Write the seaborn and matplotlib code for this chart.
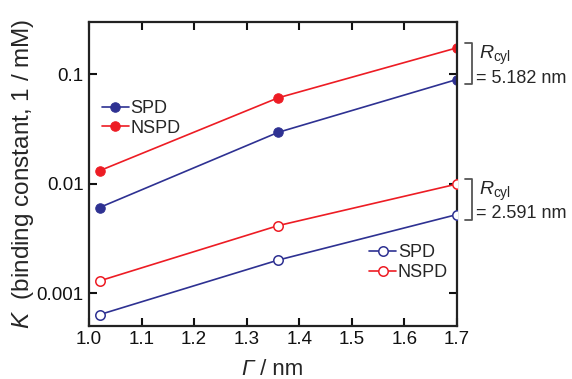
import numpy as np
import matplotlib
matplotlib.use("Agg")
import matplotlib.pyplot as plt
import matplotlib.transforms as mtransforms
import seaborn as sns
from matplotlib.ticker import FixedLocator, NullLocator

# Data
gamma = [1.02, 1.36, 1.70]
spd_large = [0.00604, 0.0294, 0.0894]
nspd_large = [0.0131, 0.0608, 0.174]
spd_small = [0.000634, 0.00200, 0.00521]
nspd_small = [0.00129, 0.00413, 0.0099]
rcyl_labels = ["= 5.182 nm", "= 2.591 nm"]
xticks = [1.0, 1.1, 1.2, 1.3, 1.4, 1.5, 1.6, 1.7]
yticks = [0.001, 0.01, 0.1]
ytick_labels = ["0.001", "0.01", "0.1"]

BLUE = "#2e3192"
RED = "#ed1c24"

sns.set_style("ticks")
plt.rcParams["font.family"] = ["Liberation Sans", "DejaVu Sans"]
plt.rcParams["mathtext.fontset"] = "custom"
plt.rcParams["mathtext.rm"] = "Liberation Sans"
plt.rcParams["mathtext.it"] = "Liberation Sans:italic"

fig = plt.figure(figsize=(5.72, 3.79), dpi=100)
ax = fig.add_axes([0.1556, 0.140, 0.643, 0.802])

sns.lineplot(x=gamma, y=spd_large, ax=ax, color=BLUE, marker="o", markersize=6.8,
             markeredgecolor=BLUE, lw=1.2, label="SPD")
sns.lineplot(x=gamma, y=nspd_large, ax=ax, color=RED, marker="o", markersize=6.8,
             markeredgecolor=RED, lw=1.2, label="NSPD")
ax.plot(gamma, spd_small, color=BLUE, marker="o", ms=6.8, mfc="white",
        mec=BLUE, mew=1.1, lw=1.2, label="SPD", zorder=3)
ax.plot(gamma, nspd_small, color=RED, marker="o", ms=6.8, mfc="white",
        mec=RED, mew=1.1, lw=1.2, label="NSPD", zorder=3)

ax.set_yscale("log")
ax.set_xlim(1.0, 1.7)
ax.set_ylim(0.0005, 0.30)
ax.xaxis.set_major_locator(FixedLocator(xticks))
ax.set_xticklabels([f"{t:.1f}" for t in xticks])
ax.yaxis.set_major_locator(FixedLocator(yticks))
ax.yaxis.set_minor_locator(NullLocator())
ax.set_yticklabels(ytick_labels)
ax.tick_params(which="both", direction="in", length=6, width=1.5,
               top=True, right=True, labelsize=13.5, pad=4, colors="#111111")
for s in ax.spines.values():
    s.set_linewidth(1.6)
    s.set_color("#222222")

ax.set_ylabel(r"$\mathit{K}$  (binding constant, 1 / mM)", fontsize=17.5, labelpad=0)

# x label: italic Gamma followed by upright unit
g = fig.text(241 / 572, 1 - 375 / 379, "Γ", fontsize=16, style="italic",
             ha="left", va="baseline")
ax.annotate(" / nm", xy=(1, 0), xycoords=g, fontsize=16, ha="left", va="bottom")

h, lab = ax.get_legend_handles_labels()
leg1 = ax.legend(h[:2], lab[:2], loc="upper left", bbox_to_anchor=(0.0, 0.785),
                 frameon=False, fontsize=13, handlelength=1.5, handletextpad=0.1,
                 labelspacing=0.15, borderaxespad=0.3)
ax.add_artist(leg1)
ax.legend(h[2:], lab[2:], loc="upper left", bbox_to_anchor=(0.727, 0.31),
          frameon=False, fontsize=13, handlelength=1.5, handletextpad=0.1,
          labelspacing=0.15, borderaxespad=0.3)

# brackets marking the two cylinder radii
trans = mtransforms.blended_transform_factory(ax.transAxes, ax.transData)
for top, bot, txt in [(nspd_large[-1], spd_large[-1], rcyl_labels[0]),
                      (nspd_small[-1], spd_small[-1], rcyl_labels[1])]:
    y0, y1 = top * 1.11, bot / 1.11
    ax.plot([1.022, 1.041, 1.041, 1.022], [y0, y0, y1, y1], transform=trans,
            color="#555555", lw=1.3, clip_on=False)
    ax.text(1.060, y0 / 1.01, r"$\mathit{R}_{\mathrm{cyl}}$", transform=trans,
            fontsize=14, va="top", ha="left")
    ax.text(1.053, y1 * 1.13, txt, transform=trans, fontsize=13,
            va="center", ha="left")

fig.savefig("out.png", dpi=100)
